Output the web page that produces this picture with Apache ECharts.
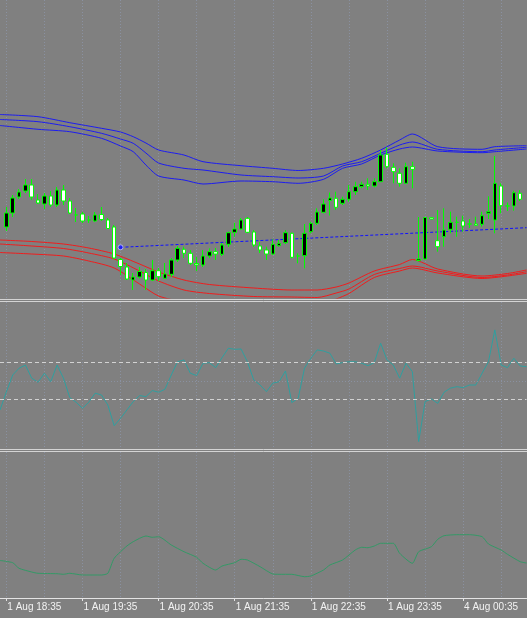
<!DOCTYPE html>
<html>
<head>
<meta charset="utf-8">
<title>1 Aug M5</title>
<script src="https://cdn.jsdelivr.net/npm/echarts@6.0.0/dist/echarts.min.js"></script>
<style>
  html, body { margin: 0; padding: 0; background: #808080; }
  #chart { width: 527px; height: 618px; }
</style>
</head>
<body>
<div id="chart"></div>
<script>
// 5 minute bars: Fri 1 Aug 18:30 .. 23:55, then Mon 4 Aug 00:00 .. 01:25
const times = [];
for (let m = 18 * 60 + 30; m < 24 * 60; m += 5) {
  times.push('1 Aug ' + String(Math.floor(m / 60)).padStart(2, '0') + ':' + String(m % 60).padStart(2, '0'));
}
for (let m = 0; m <= 85; m += 5) {
  times.push('4 Aug ' + String(Math.floor(m / 60)).padStart(2, '0') + ':' + String(m % 60).padStart(2, '0'));
}

// candles from 18:35 on: [open, close, low, high]
const candles = [
  [71, 85, 67, 91], [85, 100, 81, 103], [101, 106, 99, 109], [107, 113, 105, 119],
  [113, 101, 98, 119], [98, 95, 94, 104], [94, 102, 89, 105], [102, 93, 91, 107],
  [93, 108, 91, 111], [108, 97, 93, 113], [97, 85, 84, 100], [83, 83, 76, 90],
  [84, 77, 75, 86], [78, 78, 75, 82], [77, 83, 76, 86], [83.5, 78.5, 77, 91],
  [78, 69.5, 69, 80], [71, 40, 39, 73], [38.5, 31.5, 23, 40], [31, 19, 18, 35],
  [18, 21, 8, 25], [21, 26.5, 19.5, 31], [25.5, 18, 8, 29], [18, 27.3, 17, 38],
  [27.3, 21.3, 17, 30], [19.7, 24, 19, 35], [23.7, 38, 21, 40], [38, 49.7, 36, 52],
  [48.7, 44.7, 40, 51.3], [44.7, 34.7, 33, 48], [34.5, 33, 27, 41], [33, 42, 31, 48],
  [42, 46.3, 39.7, 49.7], [46.3, 44, 38, 50], [43.7, 53, 42, 55], [53.7, 65.3, 51, 66.3],
  [65.7, 69, 61.3, 75.3], [69, 78, 68, 80], [79.7, 65.7, 65, 81], [66, 53, 51, 68],
  [52, 48, 45, 56], [48, 44, 38, 51.3], [44, 53.7, 43, 58.7], [52.3, 54.7, 51.3, 58],
  [55.3, 65.3, 54, 68], [64.7, 40.7, 39.7, 65.3], [42, 42, 34.7, 44.7], [42.3, 64.7, 29.7, 74],
  [66.3, 74.7, 64.7, 76.3], [74.7, 86, 73, 89.7], [85.7, 94, 84.7, 98.7], [97.5, 100, 82.5, 105.5],
  [99.7, 90.7, 88, 106.3], [94.7, 98.7, 93, 101.3], [98.7, 106.3, 96.3, 113], [106.3, 111.3, 103, 116.3],
  [111.3, 113.7, 109.7, 116.3], [113.7, 112, 108, 119.7], [112, 116.3, 110.7, 119.7], [116.3, 143, 116.3, 148],
  [143.7, 131.3, 129.7, 150.7], [130.7, 126.3, 114.7, 134.7], [124.7, 114.7, 111.3, 129.7], [114.7, 131.3, 114.7, 135.3],
  [131.3, 128.7, 109.7, 136.3], [37.5, 39, 36.5, 81], [39, 80.5, 38.5, 81], [80.3, 79, 78.7, 80.7],
  [57.3, 51.3, 46.3, 88], [61.3, 68, 51.3, 89.7], [68.7, 75.7, 64.7, 86.3], [75.7, 75.7, 61.3, 81.3],
  [77, 72, 66.3, 82.3], [74, 74, 70, 79], [74, 72.7, 72, 81.3], [73.7, 82.3, 71.3, 86.3],
  [84.7, 86.3, 79, 101.7], [78, 114.7, 64.7, 142], [112, 92.3, 84.7, 114.7], [92, 92, 87, 95.5],
  [92, 105.3, 87.3, 107.3], [104.7, 98.7, 97, 108]
];

// upper bands [bar index, level]
const blueOuter = [[0, 183.5], [6, 181.3], [11, 175.3], [16, 169.7], [19, 166], [21, 161.3], [23, 155], [25, 148], [29, 143], [32, 136.3], [38, 132.3], [43, 129.7], [47, 127.5], [51, 129.7], [54, 134], [57, 139.7], [60, 148], [63, 158], [65, 164], [69, 151.3], [76, 148.7], [78, 151.3], [83, 152.3]];
const blueMid = [[0, 178.5], [6, 176.3], [11, 171.3], [16, 164.7], [19, 159], [21, 154.7], [23, 145], [25, 135], [29, 129.7], [32, 128], [38, 123], [43, 121.3], [47, 120], [51, 122], [54, 132], [57, 136.3], [60, 144.7], [63, 153], [65, 156], [69, 148.7], [76, 146.3], [78, 148], [83, 150.7]];
const blueInner = [[0, 172.5], [6, 168.7], [11, 166.3], [16, 159.7], [19, 152], [21, 146.3], [23, 133], [25, 122], [29, 118], [32, 114], [38, 117], [43, 116.3], [47, 114.7], [51, 118.7], [54, 129.7], [57, 134], [60, 143], [63, 149], [65, 151], [69, 147], [76, 145.3], [78, 146.3], [83, 149]];
// lower bands
const redInner = [[0, 58], [5, 56.5], [10, 54], [14, 50], [18, 44], [22, 34], [25, 26], [29, 18], [33, 13.5], [40, 10], [46, 8], [50, 8], [53, 11], [55, 15], [59, 27], [63, 33.5], [65, 38.5], [69, 29], [76, 22], [80, 24.5], [83, 28]];
const redMid = [[0, 54], [5, 52], [10, 49.5], [14, 45], [18, 39], [22, 27], [25, 17], [29, 8], [33, 4.5], [40, 1.5], [46, 1], [50, 0.5], [53, 5], [55, 9], [59, 23.5], [63, 29.5], [65, 32], [69, 27], [76, 20.5], [80, 23], [83, 26.3]];
const redOuter = [[0, 45.5], [5, 44], [10, 42], [14, 37], [18, 30], [22, 14], [25, 2], [29, -4], [33, -7], [40, -10], [46, -11], [50, -8], [53, -1], [55, 4.5], [59, 20.5], [63, 27], [65, 30], [69, 25], [76, 19.5], [80, 22], [83, 24.7]];

// drawn trend line
const trendLine = [[19, 50.7], [83, 70.3]];

// oscillator (CCI), one value per bar from 18:30
const cci = [
  -157, -59, 32, 69, 86, 15, -7, 42, -4, 86, 15, -90, -115, -148, -115, -66,
  -76, -130, -242, -202, -157, -112, -79, -85, -52, -61, -45, 32, 104, 114, 42, 29,
  96, 99, 72, 126, 177, 171, 173, 104, 5, -22, -58, -12, -4, 54, -117, -94,
  69, 123, 168, 162, 150, 92, 99, 104, 104, 96, 83, 99, 204, 114, 86, 15,
  96, 50, -328, -112, -97, -121, -61, -39, -31, -36, -22, -22, 42, 104, 276, 86,
  72, 123, 81, 77
];
const cciLevels = [100, -100];

// lower window line [bar index, value]
const lowerLine = [[0, 37.5], [2, 35.3], [3, 29.7], [5, 26], [6, 24.7], [9, 24.3], [10, 23.7], [11, 24.7], [13, 23], [16, 23], [17, 24.7], [18, 39.7], [20, 52], [21, 56.3], [23, 62], [24, 60.7], [25, 61.3], [27, 53], [29, 46.3], [31, 40.7], [32, 34.7], [34, 28], [35, 32], [37, 35.3], [38, 38.7], [39, 38], [41, 31.3], [43, 24], [44, 23.7], [46, 23.7], [48, 21.3], [49, 22], [51, 28], [52, 33], [54, 38], [56, 48], [57, 50.7], [58, 50.3], [59, 52], [60, 54.7], [62, 54.7], [63, 44.7], [65, 34.7], [66, 46.3], [68, 51.3], [69, 58.7], [70, 62.3], [72, 63.3], [74, 63.3], [76, 61.3], [77, 54], [79, 48], [80, 43.7], [82, 36.3], [83, 35]];

const gridColor = '#8a91a1';
const labelEvery = (i) => (i - 1) % 12 === 0;

function timeAxis(gridIndex, showLabels) {
  return {
    type: 'category',
    gridIndex: gridIndex,
    data: times,
    boundaryGap: false,
    axisLine: { show: showLabels, lineStyle: { color: '#e4e4e4', width: 1 } },
    axisTick: { show: showLabels, interval: labelEvery, length: 3, lineStyle: { color: '#e4e4e4' } },
    axisLabel: {
      show: showLabels, interval: labelEvery, align: 'left', margin: 4,
      color: '#f2f2f2', fontSize: 10, fontFamily: 'Liberation Sans', padding: [0, 0, 0, 1]
    },
    splitLine: { show: true, interval: (i) => (i - 1) % 6 === 0, lineStyle: { color: gridColor, type: [1, 2], width: 1 } }
  };
}

function band(data, color, axis) {
  return {
    type: 'line', data: data, xAxisIndex: axis, yAxisIndex: axis, smooth: 0.25,
    showSymbol: false, symbol: 'none', lineStyle: { color: color, width: 1 }, z: 2
  };
}

const chart = echarts.init(document.getElementById('chart'), null, { renderer: 'canvas' });
chart.setOption({
  animation: false,
  backgroundColor: '#808080',
  grid: [
    { left: -2.17, right: 0.46, top: 0, height: 298 },
    { left: -2.17, right: 0.46, top: 302, height: 147 },
    { left: -2.17, right: 0.46, top: 452, height: 146 }
  ],
  xAxis: [timeAxis(0, false), timeAxis(1, false), timeAxis(2, true)],
  yAxis: [
    { gridIndex: 0, type: 'value', min: 0, max: 298, show: false, splitLine: { show: false } },
    { gridIndex: 1, type: 'value', min: -368, max: 427, show: false, splitLine: { show: false } },
    { gridIndex: 2, type: 'value', min: 0, max: 146, show: false, splitLine: { show: false } }
  ],
  graphic: [
    { type: 'line', z: 100, shape: { x1: 0, y1: 299.5, x2: 527, y2: 299.5 }, style: { stroke: '#d4d4d4', lineWidth: 1 } },
    { type: 'line', z: 100, shape: { x1: 0, y1: 301.5, x2: 527, y2: 301.5 }, style: { stroke: '#d4d4d4', lineWidth: 1 } },
    { type: 'line', z: 100, shape: { x1: 0, y1: 449.5, x2: 527, y2: 449.5 }, style: { stroke: '#d4d4d4', lineWidth: 1 } },
    { type: 'line', z: 100, shape: { x1: 0, y1: 451.5, x2: 527, y2: 451.5 }, style: { stroke: '#d4d4d4', lineWidth: 1 } }
  ],
  series: [
    band(blueOuter, '#1c1cf0', 0),
    band(blueMid, '#1c1cf0', 0),
    band(blueInner, '#1c1cf0', 0),
    band(redInner, '#f01c1c', 0),
    band(redMid, '#f01c1c', 0),
    band(redOuter, '#f01c1c', 0),
    {
      type: 'line', data: trendLine, xAxisIndex: 0, yAxisIndex: 0,
      showSymbol: false, symbol: 'none', lineStyle: { color: '#1010ff', width: 1, type: [3, 2] }, z: 3
    },
    {
      type: 'scatter', data: [trendLine[0]], xAxisIndex: 0, yAxisIndex: 0,
      symbol: 'circle', symbolSize: 5, itemStyle: { color: '#1010ff', borderColor: '#c8c8ff', borderWidth: 1 }, z: 6
    },
    {
      type: 'candlestick', xAxisIndex: 0, yAxisIndex: 0, barWidth: 4, z: 5,
      data: [['-', '-', '-', '-']].concat(candles, [['-', '-', '-', '-']]),
      itemStyle: { color: '#000000', color0: '#ffffff', borderColor: '#00ff00', borderColor0: '#00ff00', borderWidth: 1 }
    },
    {
      type: 'line', data: cci, xAxisIndex: 1, yAxisIndex: 1,
      showSymbol: false, symbol: 'none', lineStyle: { color: '#2f9f9f', width: 1 },
      markLine: {
        silent: true, symbol: 'none', label: { show: false },
        data: cciLevels.map((v) => ({ yAxis: v, lineStyle: { color: '#d2d2d2', type: [4, 3], width: 1 } }))
          .concat([{ yAxis: 0, lineStyle: { color: gridColor, type: [1, 2], width: 1 } }])
      }
    },
    {
      type: 'line', data: lowerLine, xAxisIndex: 2, yAxisIndex: 2, smooth: 0.2,
      showSymbol: false, symbol: 'none', lineStyle: { color: '#339966', width: 1 }
    }
  ]
});
</script>
</body>
</html>
